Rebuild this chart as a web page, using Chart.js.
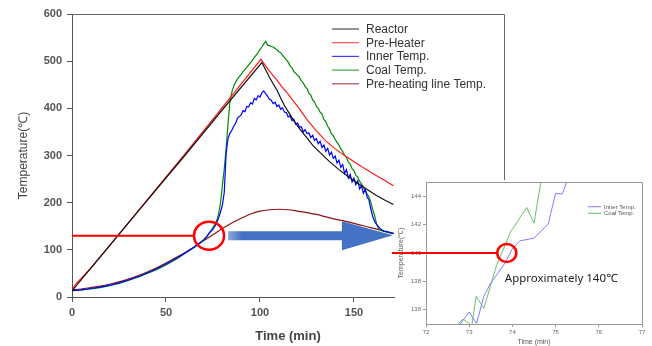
<!DOCTYPE html>
<html>
<head>
<meta charset="utf-8">
<script src="https://cdn.jsdelivr.net/npm/chart.js@4.4.1/dist/chart.umd.min.js"></script>
<style>
  html, body { margin: 0; padding: 0; background: #fff; }
  #wrap { position: relative; width: 652px; height: 346px; }
  #mainChart { position: absolute; left: 0; top: 0; }
  #zoomChart { position: absolute; left: 386px; top: 176px; }
</style>
</head>
<body>
<div id="wrap">
  <canvas id="mainChart" width="652" height="346"></canvas>
  <canvas id="zoomChart" width="266" height="170"></canvas>
</div>
<script>
// ---- main run: temperatures vs time (min) ----
const reactorTime = [0, 10, 20, 40, 60, 80, 101, 103, 105, 107, 109, 111, 113, 115, 118, 121, 124, 128, 132, 137, 142, 147, 152, 157, 162, 167, 171];
const reactorTemp = [13, 61, 109, 205, 300, 397, 497, 482, 466, 452, 439, 422, 406, 393, 374, 357, 342, 322, 306, 287, 270, 255, 241, 228, 215, 204, 196];

const preHeaterTime = [0, 2, 5, 10, 20, 40, 60, 80, 100.5, 103, 106, 109, 112, 115, 118, 121, 125, 130, 135, 140, 145, 150, 155, 160, 165, 171];
const preHeaterTemp = [15, 28, 40, 61, 109, 206, 303, 402, 504, 490, 474, 460, 444, 430, 414, 399, 376, 352, 331, 314, 300, 287, 274, 262, 250, 236];

const lineTime = [0, 5, 10, 15, 20, 25, 30, 35, 40, 45, 50, 55, 60, 65, 70, 75, 80, 85, 90, 95, 100, 105, 110, 115, 120, 125, 130, 135, 140, 145, 150, 155, 160, 165, 171];
const lineTemp = [15, 17, 20, 23, 27, 32, 38, 45, 53, 62, 72, 83, 94, 106, 119, 132, 145, 157, 167, 176, 182, 185, 186, 185, 182, 179, 175, 170, 165, 161, 156, 151, 146, 141, 134];

// inner and coal thermocouples share the logger time base
const probeTime = [0, 5, 10, 15, 20, 25, 30, 35, 40, 45, 50, 55, 60, 65, 70, 72, 73,
  74, 75, 76, 77, 78, 79, 80, 81, 82, 83, 84, 85, 86, 87, 88, 89, 90, 91, 92, 93,
  94, 95, 96, 97, 98, 99, 100, 101, 102, 103, 104, 105, 106, 107, 108, 109, 110, 111, 112, 113,
  114, 115, 116, 117, 118, 119, 120, 121, 122, 123, 124, 125, 126, 127, 128, 129, 130, 131, 132, 133,
  134, 135, 136, 137, 138, 139, 140, 141, 142, 143, 144, 145, 146, 147, 148, 149, 150, 151, 152, 153,
  154, 155, 156, 157, 158, 159, 160, 161, 162, 163, 164, 165, 166, 167, 168, 169, 170, 171];
const innerTemp = [14, 15, 18, 21, 25, 30, 36, 43, 51, 60, 70, 81, 93, 106, 121, 130, 136,
  140, 144, 150, 158, 168, 180, 195, 222, 305, 336, 347, 353, 362, 368, 379, 383, 386, 395, 393, 404,
  403, 412, 409, 421, 418, 427, 424, 433, 437, 431, 426, 419, 417, 410, 413, 404, 407, 398, 401, 392,
  391, 382, 384, 374, 377, 366, 369, 360, 361, 350, 355, 346, 348, 338, 343, 332, 336, 325, 330, 317,
  322, 309, 315, 301, 307, 294, 299, 284, 290, 275, 281, 262, 270, 252, 260, 244, 252, 238, 246, 229,
  236, 220, 228, 212, 205, 186, 170, 160, 154, 149, 145, 142, 140, 139, 138, 137, 136, 135];
const coalTemp = [13, 15, 17, 20, 24, 29, 35, 42, 50, 58, 68, 79, 92, 105, 120, 129, 135,
  141, 148, 154, 162, 176, 200, 236, 272, 315, 368, 414, 434, 447, 455, 462, 467, 472, 478, 482, 487,
  492, 497, 502, 508, 513, 518, 525, 530, 536, 542, 534, 533, 531, 530, 527, 525, 520, 518, 512, 508,
  503, 498, 490, 486, 478, 474, 470, 466, 458, 454, 446, 442, 432, 428, 418, 414, 404, 400, 392, 388,
  376, 372, 362, 356, 346, 342, 334, 328, 322, 314, 309, 300, 296, 286, 282, 272, 268, 258, 254, 245,
  240, 232, 226, 218, 212, 200, 185, 172, 155, 146, 142, 140, 139, 138, 137, 136, 136, 135];

// marked ignition point on the main plot and the arrow to the zoom
const markTime = 72.9;
const markTemp = 130;
const arrowFrom = 83;
const arrowTo = 170.7;
const arrowTemp = 131;

// ---- zoom around 72-77 min ----
const zoomInnerTime = [72.7, 73.0, 73.17, 73.34, 73.5, 73.67, 73.83, 74.0, 74.17, 74.5, 74.83, 75.0, 75.15, 75.3];
const zoomInnerTemp = [134.6, 135.85, 135.05, 136.95, 137.9, 138.6, 139.3, 140.3, 140.85, 141.05, 142.05, 144.2, 144.15, 145.3];
const zoomCoalTime = [72.7, 72.85, 73.06, 73.16, 73.34, 73.63, 73.96, 74.33, 74.5, 74.67];
const zoomCoalTemp = [134.8, 135.35, 134.9, 136.95, 136.1, 139.1, 141.5, 143.2, 142.1, 145.2];
const zoomTempTicks = [136, 138, 140, 142, 144];
const zoomMarkTime = 73.87;
const zoomMarkTemp = 140;
const zoomNote = 'Approximately 140\u2103';

Chart.defaults.font.family = 'Arial, "Liberation Sans", sans-serif';
Chart.defaults.animation = false;

function pairs(xs, ys) {
  return xs.map((t, i) => ({ x: t, y: ys[i] }));
}

const mainDecor = {
  id: 'mainDecor',
  afterDatasetsDraw(chart) {
    const { ctx, chartArea: a, scales: { x, y } } = chart;
    ctx.save();

    // box top and right edge
    ctx.strokeStyle = '#666';
    ctx.lineWidth = 1;
    ctx.beginPath();
    ctx.moveTo(a.left, a.top + 0.5);
    ctx.lineTo(a.right + 0.5, a.top + 0.5);
    ctx.lineTo(a.right + 0.5, a.bottom);
    ctx.stroke();

    // red level line and circle
    const cx = x.getPixelForValue(markTime);
    const cy = y.getPixelForValue(markTemp);
    ctx.strokeStyle = '#ff0000';
    ctx.lineWidth = 2;
    ctx.beginPath();
    ctx.moveTo(x.getPixelForValue(0), cy);
    ctx.lineTo(cx - 15, cy);
    ctx.stroke();
    ctx.lineWidth = 2.5;
    ctx.beginPath();
    ctx.ellipse(cx, cy, 15, 14, 0, 0, Math.PI * 2);
    ctx.stroke();

    // block arrow
    const ax0 = x.getPixelForValue(arrowFrom);
    const ax1 = x.getPixelForValue(arrowTo);
    const ay = y.getPixelForValue(arrowTemp);
    const headLen = 51;
    const grad = ctx.createLinearGradient(ax0, 0, ax0 + 14, 0);
    grad.addColorStop(0, '#8fa9dc');
    grad.addColorStop(1, '#4472c4');
    ctx.fillStyle = grad;
    ctx.beginPath();
    ctx.moveTo(ax0, ay - 4);
    ctx.lineTo(ax1 - headLen, ay - 4);
    ctx.lineTo(ax1 - headLen, ay - 14);
    ctx.lineTo(ax1, ay);
    ctx.lineTo(ax1 - headLen, ay + 15);
    ctx.lineTo(ax1 - headLen, ay + 5);
    ctx.lineTo(ax0, ay + 5);
    ctx.closePath();
    ctx.fill();

    // legend
    ctx.font = '12px Arial, "Liberation Sans", sans-serif';
    ctx.textBaseline = 'middle';
    chart.data.datasets.forEach((ds, i) => {
      const ly = 29 + i * 13.7;
      ctx.globalAlpha = 0.75;
      ctx.strokeStyle = ds.borderColor;
      ctx.lineWidth = 1.2;
      ctx.beginPath();
      ctx.moveTo(332, ly);
      ctx.lineTo(359, ly);
      ctx.stroke();
      ctx.globalAlpha = 1;
      ctx.fillStyle = '#333';
      ctx.fillText(ds.label, 366, ly + 0.5);
    });
    ctx.restore();
  }
};

new Chart(document.getElementById('mainChart'), {
  type: 'line',
  data: {
    datasets: [
      { label: 'Reactor', data: pairs(reactorTime, reactorTemp), borderColor: '#111111' },
      { label: 'Pre-Heater', data: pairs(preHeaterTime, preHeaterTemp), borderColor: '#ff1a1a' },
      { label: 'Inner Temp.', data: pairs(probeTime, innerTemp), borderColor: '#0000ff' },
      { label: 'Coal Temp.', data: pairs(probeTime, coalTemp), borderColor: '#008a00' },
      { label: 'Pre-heating line Temp.', data: pairs(lineTime, lineTemp), borderColor: '#8b1010', tension: 0.3 }
    ]
  },
  options: {
    responsive: false,
    layout: { padding: { left: 0, top: 14, right: 148, bottom: 0 } },
    elements: { point: { radius: 0 }, line: { borderWidth: 1.2 } },
    plugins: { legend: { display: false }, tooltip: { enabled: false } },
    scales: {
      x: {
        type: 'linear',
        min: 0,
        max: 229.8,
        afterFit(s) { s.height = 49; },
        grid: { drawOnChartArea: false, tickLength: 5, color: '#555' },
        border: { color: '#555' },
        ticks: { stepSize: 50, includeBounds: false, padding: 4, color: '#555', font: { size: 11, weight: 'bold' } },
        title: { display: true, text: 'Time (min)', color: '#444', font: { size: 13, weight: 'bold' }, padding: { top: 0, bottom: 2 } }
      },
      y: {
        min: 0,
        max: 600,
        afterFit(s) { s.width = 72; },
        grid: { drawOnChartArea: false, tickLength: 5, color: '#555' },
        border: { color: '#555' },
        ticks: { stepSize: 100, padding: 5, color: '#555', font: { size: 11, weight: 'bold' } },
        title: { display: true, text: 'Temperature(\u2103)', color: '#444', font: { size: 12 }, padding: { top: 16, bottom: 0 } }
      }
    }
  },
  plugins: [mainDecor]
});

const zoomDecor = {
  id: 'zoomDecor',
  beforeDraw(chart) {
    const ctx = chart.ctx;
    ctx.save();
    ctx.fillStyle = '#ffffff';
    ctx.fillRect(9, 4, chart.width - 9, chart.height - 4);
    ctx.restore();
  },
  afterDatasetsDraw(chart) {
    const { ctx, chartArea: a, scales: { x, y } } = chart;
    ctx.save();

    ctx.strokeStyle = '#999';
    ctx.lineWidth = 1;
    ctx.beginPath();
    ctx.moveTo(a.left, a.top + 0.5);
    ctx.lineTo(a.right + 0.5, a.top + 0.5);
    ctx.lineTo(a.right + 0.5, a.bottom);
    ctx.stroke();

    const cx = x.getPixelForValue(zoomMarkTime);
    const cy = y.getPixelForValue(zoomMarkTemp);
    ctx.strokeStyle = '#ff0000';
    ctx.lineWidth = 2;
    ctx.beginPath();
    ctx.moveTo(6, cy);
    ctx.lineTo(cx - 9.5, cy);
    ctx.stroke();
    ctx.lineWidth = 2.5;
    ctx.beginPath();
    ctx.ellipse(cx, cy, 9.5, 9, 0, 0, Math.PI * 2);
    ctx.stroke();

    ctx.fillStyle = '#222';
    ctx.font = '11.5px "Noto Sans", sans-serif';
    ctx.textBaseline = 'middle';
    ctx.fillText(zoomNote, cx - 2, cy + 26);

    ctx.font = '6px Arial, "Liberation Sans", sans-serif';
    chart.data.datasets.forEach((ds, i) => {
      const ly = 30.7 + i * 6.6;
      ctx.strokeStyle = ds.borderColor;
      ctx.lineWidth = 1;
      ctx.beginPath();
      ctx.moveTo(201.7, ly);
      ctx.lineTo(215, ly);
      ctx.stroke();
      ctx.fillStyle = '#555';
      ctx.fillText(ds.label, 218, ly + 0.5);
    });
    ctx.restore();
  }
};

new Chart(document.getElementById('zoomChart'), {
  type: 'line',
  data: {
    datasets: [
      { label: 'Inner Temp.', data: pairs(zoomInnerTime, zoomInnerTemp), borderColor: '#7f7fff' },
      { label: 'Coal Temp.', data: pairs(zoomCoalTime, zoomCoalTemp), borderColor: '#6cbf6c' }
    ]
  },
  options: {
    responsive: false,
    layout: { padding: { left: 0, top: 6, right: 10, bottom: 0 } },
    elements: { point: { radius: 0 }, line: { borderWidth: 1 } },
    plugins: { legend: { display: false }, tooltip: { enabled: false } },
    scales: {
      x: {
        type: 'linear',
        min: 72,
        max: 77,
        afterFit(s) { s.height = 22; },
        grid: { drawOnChartArea: false, tickLength: 3, color: '#999' },
        border: { color: '#999' },
        ticks: { stepSize: 1, padding: 2, color: '#666', font: { size: 6 } },
        title: { display: true, text: 'Time (min)', color: '#555', font: { size: 7 }, padding: { top: 0, bottom: 0 } }
      },
      y: {
        min: 135,
        max: 145,
        afterFit(s) { s.width = 40; },
        afterBuildTicks(s) { s.ticks = zoomTempTicks.map(v => ({ value: v })); },
        grid: { drawOnChartArea: false, tickLength: 3, color: '#999' },
        border: { color: '#999' },
        ticks: { padding: 2, color: '#666', font: { size: 6 } },
        title: { display: true, text: 'Temperature(\u2103)', color: '#555', font: { size: 7 }, padding: { top: 11, bottom: 0 } }
      }
    }
  },
  plugins: [zoomDecor]
});
</script>
</body>
</html>
